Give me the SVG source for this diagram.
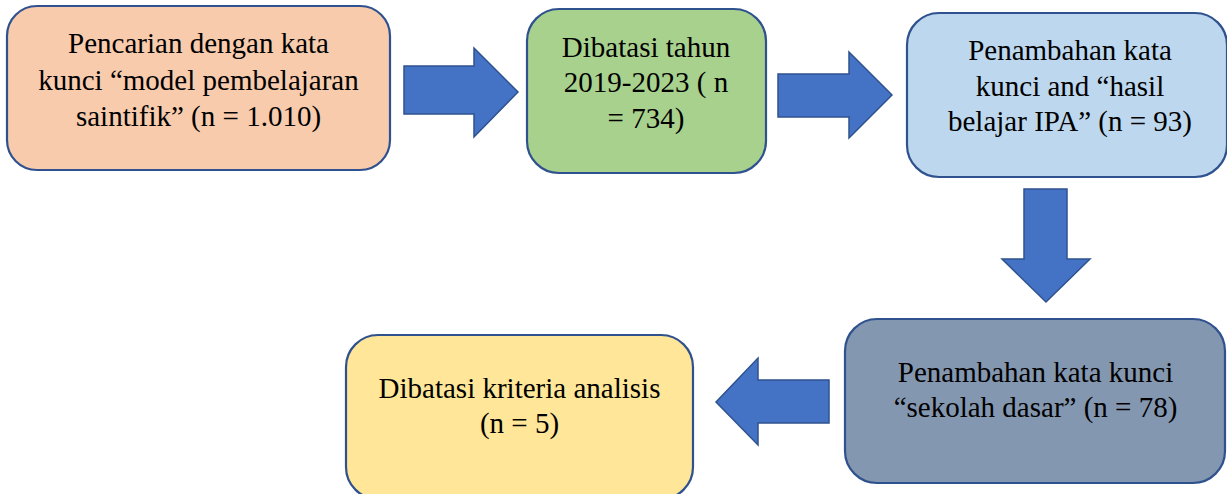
<svg xmlns="http://www.w3.org/2000/svg" width="1227" height="494" viewBox="0 0 1227 494">
<style>
.box{stroke:#2F528F;stroke-width:2.2}
.arr{fill:#4472C4;stroke:#2F528F;stroke-width:1.5}
text{font-family:"Liberation Serif","Times New Roman",serif;font-size:29px;fill:#000;text-anchor:middle}
</style>
<rect width="1227" height="494" fill="#fff"/>
<g id="connectors">
<polygon class="arr" points="404,66 474,66 474,48 518,92 474,137 474,114 404,114"/>
<polygon class="arr" points="778,74 849,74 849,52 892,95 849,138 849,117 778,117"/>
<polygon class="arr" points="1024,189 1067,189 1067,259 1090,259 1046,302 1002,259 1024,259"/>
<polygon class="arr" points="829,380 758,380 758,358 716,402 758,445 758,423 829,423"/>
</g>
<g id="node1">
<rect class="box" x="7" y="6" width="383" height="164" rx="30" fill="#F8CBAD"/>
<text x="198.5" y="53">Pencarian dengan kata</text>
<text x="198.5" y="90">kunci “model pembelajaran</text>
<text x="198.5" y="126">saintifik” (n = 1.010)</text>
</g>
<g id="node2">
<rect class="box" x="527" y="9" width="239" height="164" rx="32" fill="#A9D18E"/>
<text x="646" y="57">Dibatasi tahun</text>
<text x="646" y="92">2019-2023 ( n</text>
<text x="646" y="128">= 734)</text>
</g>
<g id="node3">
<rect class="box" x="907" y="13" width="320" height="164" rx="32" fill="#BDD7EE"/>
<text x="1070" y="60">Penambahan kata</text>
<text x="1070" y="96">kunci and “hasil</text>
<text x="1070" y="131">belajar IPA” (n = 93)</text>
</g>
<g id="node4">
<rect class="box" x="845" y="319" width="380" height="164" rx="32" fill="#8497B0"/>
<text x="1035.5" y="382">Penambahan kata kunci</text>
<text x="1035.5" y="417">“sekolah dasar” (n = 78)</text>
</g>
<g id="node5">
<rect class="box" x="346" y="335" width="347" height="164" rx="32" fill="#FFE699"/>
<text x="519.5" y="398">Dibatasi kriteria analisis</text>
<text x="519.5" y="433">(n = 5)</text>
</g>
</svg>
